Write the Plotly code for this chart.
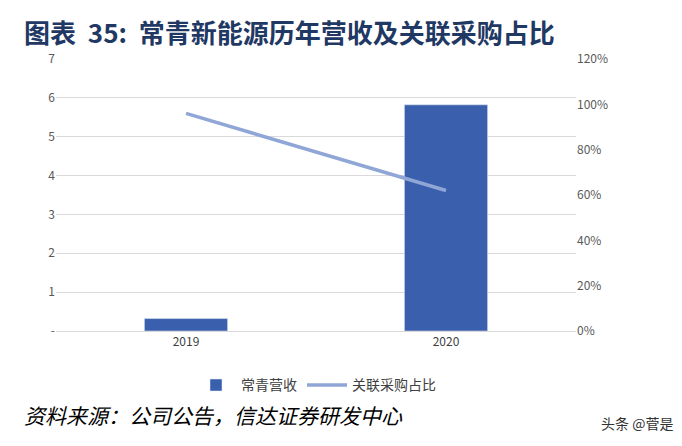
import plotly.graph_objects as go

years = ["2019", "2020"]
revenue = [0.32, 5.82]
related_share = [0.96, 0.62]
left_ticks = ["-", "1", "2", "3", "4", "5", "6", "7"]

fig = go.Figure()
fig.add_trace(go.Bar(x=years, y=revenue, name="常青营收", marker_color="#3a5fad", width=0.32))
fig.add_trace(go.Scatter(x=years, y=related_share, name="关联采购占比", mode="lines",
                         line=dict(color="#8fa6d6", width=3.5), yaxis="y2"))

fig.update_layout(
    width=682, height=446, plot_bgcolor="white", paper_bgcolor="white",
    margin=dict(l=48, r=114, t=51, b=123, autoexpand=False),
    font=dict(family="Noto Sans CJK SC", size=12, color="#595959"),
    xaxis=dict(showline=True, linecolor="#d9d9d9", ticks="", tickfont=dict(size=12, color="#404040")),
    yaxis=dict(range=[0, 7], tickvals=list(range(8)), ticktext=left_ticks,
               gridcolor="#d9d9d9", zeroline=False),
    yaxis2=dict(range=[0, 1.2], overlaying="y", side="right", tickformat=".0%",
                dtick=0.2, showgrid=False, zeroline=False),
    showlegend=True,
    legend=dict(orientation="h", x=0.5, xanchor="center", y=-0.2, yanchor="middle",
                font=dict(size=14, color="#404040"), itemwidth=40),
    annotations=[
        dict(text="<b>图表  35:  常青新能源历年营收及关联采购占比</b>", xref="paper", yref="paper",
             x=-0.065, y=1.1, xanchor="left", yanchor="middle", showarrow=False,
             font=dict(size=26, color="#1f3864")),
        dict(text="<i>资料来源：公司公告，信达证券研发中心</i>", xref="paper", yref="paper",
             x=-0.065, y=-0.31, xanchor="left", yanchor="middle", showarrow=False,
             font=dict(size=21, color="#000000")),
        dict(text="头条 @菅是", xref="paper", yref="paper", x=1.19, y=-0.34,
             xanchor="right", yanchor="middle", showarrow=False,
             font=dict(size=14, color="#333333")),
    ],
)

fig.write_html("out.html")
